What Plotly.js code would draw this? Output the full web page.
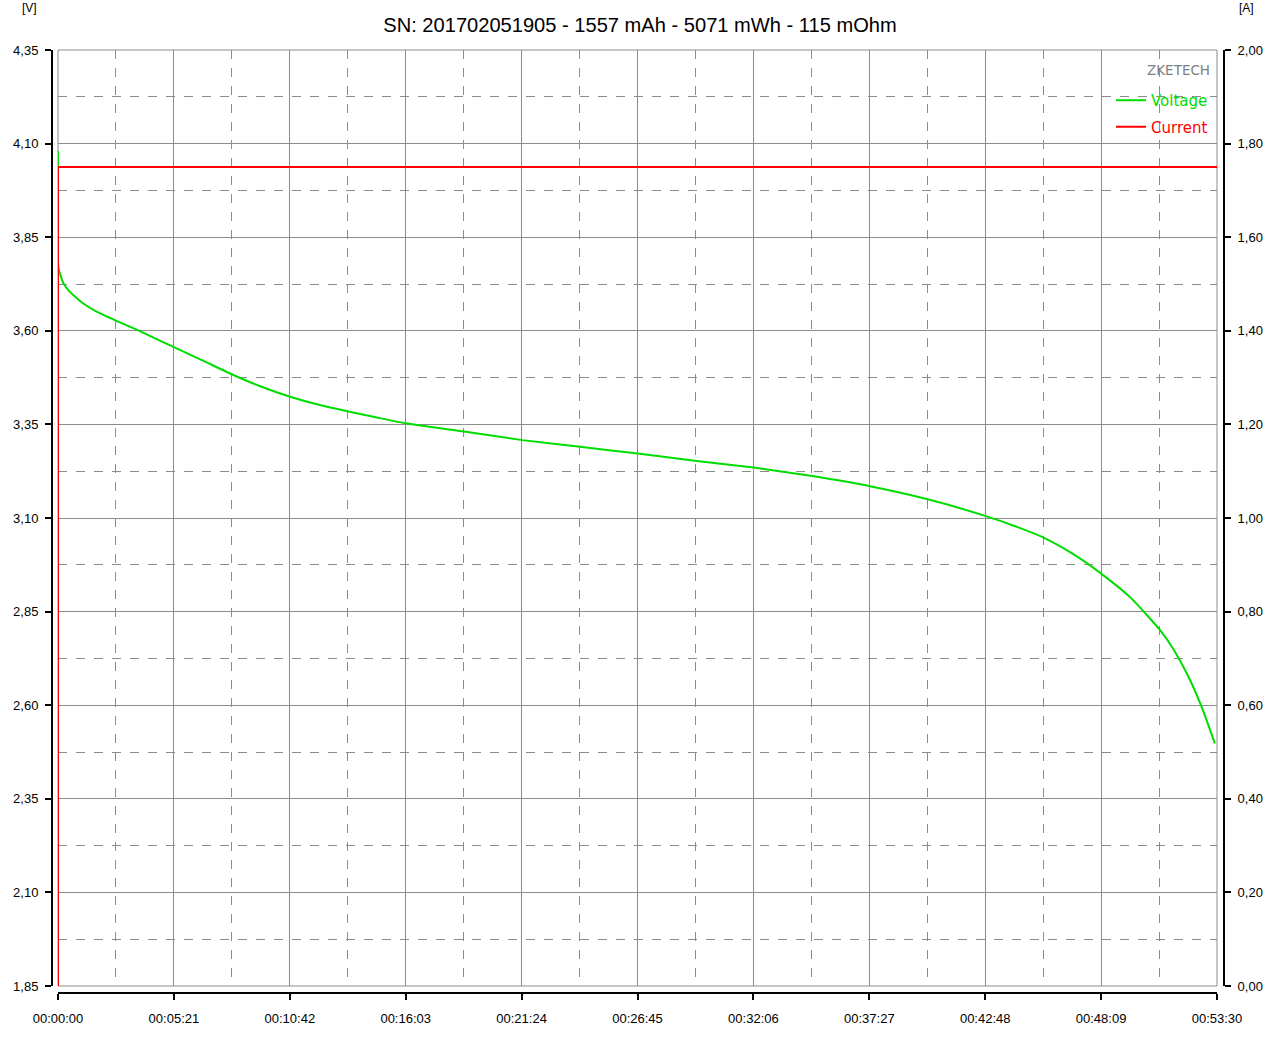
<!DOCTYPE html>
<html>
<head>
<meta charset="utf-8">
<script src="https://cdn.plot.ly/plotly-3.0.1.min.js"></script>
<style>html,body{margin:0;padding:0;background:#fff;}#chart{width:1280px;height:1043px;}</style>
</head>
<body>
<div id="chart"></div>
<script>
// Time in seconds since start
const timeSec = [0, 1, 8, 15, 33, 50, 70, 107, 163, 218, 282, 333, 400, 481, 560, 643, 720, 801, 880, 963, 1124, 1286, 1446, 1606, 1769, 1926, 2089, 2249, 2409, 2570, 2651, 2731, 2811, 2891, 2972, 3052, 3091, 3130, 3168, 3204];
// Voltage [V]
const voltage = [4.08, 3.771, 3.745, 3.727, 3.704, 3.689, 3.673, 3.651, 3.626, 3.603, 3.574, 3.551, 3.521, 3.484, 3.452, 3.424, 3.403, 3.385, 3.369, 3.353, 3.331, 3.308, 3.290, 3.272, 3.252, 3.235, 3.212, 3.185, 3.150, 3.105, 3.078, 3.047, 3.004, 2.950, 2.886, 2.801, 2.747, 2.678, 2.594, 2.498];
// Current [A]
const currentTime = [0, 0, 3210];
const current = [0, 1.75, 1.75];
// X tick positions and labels
const xTickVals = [0, 321, 642, 963, 1284, 1605, 1926, 2247, 2568, 2889, 3210];
const xTickText = ['00:00:00', '00:05:21', '00:10:42', '00:16:03', '00:21:24', '00:26:45', '00:32:06', '00:37:27', '00:42:48', '00:48:09', '00:53:30'];
const titleText = 'SN: 201702051905 - 1557 mAh - 5071 mWh - 115 mOhm';

const xMinorVals = xTickVals.slice(1).map((v, i) => (v + xTickVals[i]) / 2);

const GREEN = '#00dd00';
const RED = '#ff0000';
const GRID = '#8c8c8c';
const FONT = 'DejaVu Sans';

const traces = [
  {x: timeSec, y: voltage, xaxis: 'x', yaxis: 'y', mode: 'lines', name: '<span style="color:' + GREEN + '">Voltage</span>',
   line: {color: GREEN, width: 2, shape: 'spline', smoothing: 0.5}, legendgroup: 'v', hoverinfo: 'skip'},
  {x: currentTime, y: current, xaxis: 'x', yaxis: 'y2', mode: 'lines', name: '<span style="color:' + RED + '">Current</span>',
   line: {color: RED, width: 2}, legendgroup: 'c', hoverinfo: 'skip'}
];

const xDom = [6/1172, 1165/1172];
const yDom = [7/943, 1];
const tickFont = {family: 'Liberation Sans', size: 13, color: '#000'};

const layout = {
  width: 1280, height: 1043,
  margin: {l: 52, r: 56, t: 50, b: 50},
  paper_bgcolor: '#fff', plot_bgcolor: '#fff',
  separators: ',.',
  showlegend: true,
  title: {text: titleText, font: {family: 'Liberation Sans', size: 20.1, color: '#000'}, x: 0.5, xanchor: 'center', y: 1 - 25/1043, yanchor: 'middle'},
  xaxis: {domain: xDom, range: [0, 3210], anchor: 'free', position: 0,
          tickmode: 'array', tickvals: xTickVals, ticktext: xTickText,
          ticks: 'outside', ticklen: 6, tickwidth: 2, tickcolor: '#000', showline: true, linecolor: '#000', linewidth: 2,
          tickfont: tickFont, ticklabelstandoff: 7,
          showgrid: true, gridcolor: GRID, gridwidth: 1, zeroline: false,
          minor: {tickmode: 'array', tickvals: xMinorVals, ticks: '', showgrid: true, gridcolor: GRID, griddash: 'dash', gridwidth: 1},
          fixedrange: true},
  yaxis: {domain: yDom, range: [1.85, 4.35], anchor: 'free', position: 0, side: 'left',
          tickmode: 'linear', tick0: 1.85, dtick: 0.25, tickformat: '.2f',
          ticks: 'outside', ticklen: 6, tickwidth: 2, tickcolor: '#000', showline: true, linecolor: '#000', linewidth: 2,
          tickfont: tickFont, ticklabelstandoff: 4,
          showgrid: true, gridcolor: GRID, gridwidth: 1, zeroline: false,
          minor: {dtick: 0.125, tick0: 1.85, ticks: '', showgrid: true, gridcolor: GRID, griddash: 'dash', gridwidth: 1},
          fixedrange: true},
  yaxis2: {overlaying: 'y', anchor: 'free', position: 1, side: 'right', domain: yDom, range: [0, 2], tickmode: 'linear', tick0: 0, dtick: 0.2,
           tickformat: '.2f', ticks: 'outside', ticklen: 6, tickwidth: 2, tickcolor: '#000', showline: true, linecolor: '#000', linewidth: 2,
           showgrid: false, zeroline: false, tickfont: tickFont, ticklabelstandoff: 4, fixedrange: true},
  shapes: [
    {type: 'rect', xref: 'x domain', yref: 'y domain', x0: 0, x1: 1, y0: 0, y1: 1, line: {color: GRID, width: 1}, fillcolor: 'rgba(0,0,0,0)', layer: 'below'}
  ],
  legend: {x: 1161/1172, xanchor: 'right', y: (993 - 84)/943, yanchor: 'top', bgcolor: 'rgba(0,0,0,0)', borderwidth: 0,
           font: {family: FONT, size: 15}, itemwidth: 30, tracegroupgap: 4, traceorder: 'grouped'},
  annotations: [
    {text: 'ZKETECH', xref: 'paper', yref: 'paper', x: 1160/1172, y: (993 - 70)/943, xanchor: 'right', yanchor: 'middle', showarrow: false,
     font: {family: FONT, size: 13.5, color: '#808080'}},
    {text: '[V]', xref: 'paper', yref: 'paper', x: -22/1172, y: (993 + 1)/943, xanchor: 'center', yanchor: 'top', showarrow: false,
     font: {family: 'Liberation Sans', size: 12, color: '#000'}},
    {text: '[A]', xref: 'paper', yref: 'paper', x: 1194/1172, y: (993 + 1)/943, xanchor: 'center', yanchor: 'top', showarrow: false,
     font: {family: 'Liberation Sans', size: 12, color: '#000'}}
  ]
};

Plotly.newPlot('chart', traces, layout, {displayModeBar: false, staticPlot: true});
</script>
</body>
</html>
